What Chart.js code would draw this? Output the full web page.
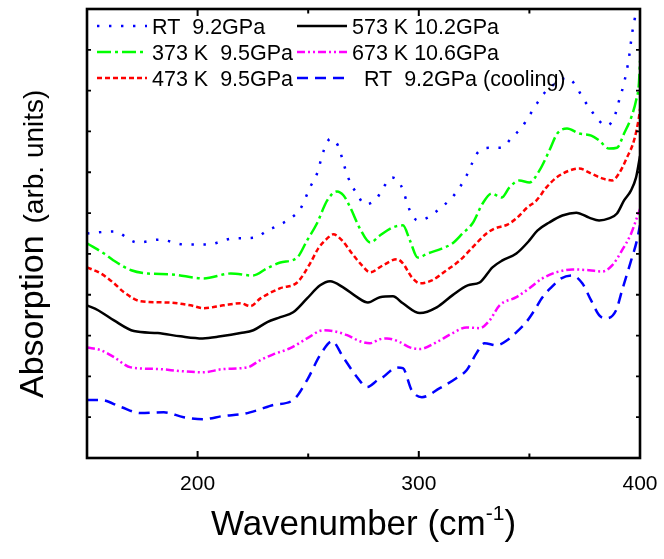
<!DOCTYPE html>
<html>
<head>
<meta charset="utf-8">
<script src="https://cdn.jsdelivr.net/npm/chart.js@4/dist/chart.umd.min.js"></script>
<style>
  html, body { margin: 0; padding: 0; background: #fff; }
  #wrap { position: relative; width: 664px; height: 559px; }
</style>
</head>
<body>
<div id="wrap"><canvas id="c"></canvas></div>
<script>
// ---- data (wavenumber in cm^-1, absorption in arb. units) ----
const rtX = [150, 162, 173, 183, 194, 204.5, 216, 226, 231.5, 236.5, 242, 246.5, 251, 254, 257, 260, 263.5, 266.7, 269, 272, 275.7, 281, 284, 288, 292, 296, 299.5, 304, 309.5, 315, 318.5, 321.6, 324, 326.6, 332, 337.4, 342, 346.4, 350, 353.6, 357.7, 362.2, 367, 371, 374, 378, 381.5, 385, 388.3, 390.5, 392.8, 395, 396.4, 397.7, 398.6, 400];
const rtY = [5.50, 5.55, 5.28, 5.35, 5.23, 5.23, 5.38, 5.40, 5.57, 5.70, 5.87, 6.11, 6.65, 6.97, 7.53, 7.82, 7.65, 7.09, 6.75, 6.48, 6.21, 6.36, 6.63, 6.87, 6.67, 6.06, 5.82, 5.89, 6.11, 6.38, 6.63, 6.92, 7.21, 7.48, 7.60, 7.60, 7.85, 8.09, 8.39, 8.70, 9.00, 9.19, 9.32, 9.12, 8.83, 8.51, 8.26, 8.14, 8.34, 8.75, 9.19, 9.80, 10.39, 10.78, 11.0, 11.3];

const k373X = [150, 157.7, 162, 170, 177.5, 188, 202.7, 215, 225, 231.5, 237.4, 245, 249.5, 254, 258.6, 263, 266, 269, 273.4, 278, 282.4, 288.3, 292.8, 296, 299.5, 304, 310.4, 315.3, 319.8, 324.3, 328.8, 333, 337.4, 341, 345.5, 350, 354.5, 359, 362.6, 367, 372.5, 378, 381.5, 386, 389.6, 392.8, 396, 398.2, 399.5, 400];
const k373Y = [5.26, 5.01, 4.84, 4.60, 4.52, 4.50, 4.40, 4.52, 4.47, 4.65, 4.79, 4.91, 5.33, 5.75, 6.31, 6.53, 6.43, 6.14, 5.62, 5.28, 5.45, 5.65, 5.70, 5.33, 4.91, 5.01, 5.13, 5.26, 5.50, 5.75, 6.23, 6.48, 6.38, 6.63, 6.80, 6.75, 7.04, 7.53, 7.95, 8.07, 7.95, 7.90, 7.78, 7.58, 7.60, 7.95, 8.34, 8.75, 9.17, 9.73];

const k473X = [150, 156.3, 162.2, 166.7, 174.3, 186.5, 196.8, 202.7, 211.7, 219.4, 223.9, 228.4, 237.4, 245, 250.9, 254.5, 258.6, 261.3, 265.3, 269.8, 274.3, 277.9, 283.8, 290.1, 292.8, 296.8, 300.5, 305.9, 312.6, 318.5, 324.3, 330.6, 334.2, 340.1, 344.1, 349.1, 353.2, 357.7, 362.2, 368, 372.5, 377.9, 382.9, 387.4, 390.5, 394.1, 397.3, 399.5, 400];
const k473Y = [4.67, 4.52, 4.28, 4.06, 3.84, 3.81, 3.74, 3.67, 3.74, 3.79, 3.72, 3.91, 4.16, 4.30, 4.77, 5.13, 5.38, 5.48, 5.33, 5.01, 4.72, 4.55, 4.72, 4.87, 4.77, 4.43, 4.28, 4.35, 4.60, 4.84, 5.16, 5.50, 5.62, 5.72, 5.87, 6.14, 6.31, 6.63, 6.87, 7.04, 7.09, 6.97, 6.85, 6.80, 6.97, 7.36, 7.78, 8.34, 8.55];

const k573X = [150, 155, 162.2, 171.2, 182, 192.3, 202.3, 210.4, 219.4, 225.2, 231.5, 237.4, 243.2, 249.5, 255.4, 259.9, 265.8, 272.1, 277, 282.4, 288.3, 292.8, 300.5, 308.1, 315.3, 322.1, 327.5, 333.3, 337.8, 344.1, 350, 353.6, 359, 364.9, 371.2, 377, 381.5, 386, 389.6, 392.8, 395.9, 398.2, 399.5, 400];
const k573Y = [3.74, 3.62, 3.37, 3.11, 3.06, 2.98, 2.93, 2.98, 3.06, 3.13, 3.33, 3.45, 3.57, 3.91, 4.23, 4.33, 4.18, 3.94, 3.81, 3.94, 3.96, 3.79, 3.55, 3.69, 3.99, 4.23, 4.30, 4.67, 4.84, 5.01, 5.33, 5.57, 5.77, 5.94, 6.01, 5.89, 5.82, 5.87, 5.99, 6.31, 6.55, 6.87, 7.24, 7.40];

const k673X = [150, 156.3, 162.2, 169.8, 182, 192.3, 202.7, 211.7, 222.5, 228.4, 234.2, 241.9, 249.5, 256.8, 261.3, 267.6, 273.4, 277.9, 282.4, 285.6, 291.4, 295.9, 300.5, 308.1, 315.3, 321.6, 327.5, 332, 336.5, 344.1, 350, 355.9, 362.2, 369.4, 377, 382.9, 387.4, 391.9, 396, 398.6, 400];
const k673Y = [2.71, 2.64, 2.47, 2.22, 2.18, 2.13, 2.10, 2.18, 2.22, 2.40, 2.54, 2.69, 2.93, 3.13, 3.11, 3.01, 2.86, 2.81, 2.91, 2.93, 2.84, 2.71, 2.67, 2.84, 3.06, 3.20, 3.18, 3.37, 3.74, 3.94, 4.16, 4.40, 4.55, 4.62, 4.60, 4.57, 4.72, 5.09, 5.50, 5.89, 6.10];

const coolX = [150, 156.3, 165.3, 174.3, 184.7, 193.7, 202.3, 211.7, 220.7, 227, 234.2, 243.2, 249.5, 255.4, 260.8, 265.8, 272.1, 276.6, 281.5, 283.8, 290.1, 292.8, 296.8, 301.4, 309.5, 317.1, 321.6, 326.1, 329.7, 335.1, 340.1, 344.1, 348.6, 352.3, 355.9, 359.9, 364.4, 369.4, 373.9, 377.9, 381.5, 384.7, 389.2, 391.9, 396, 398.6, 400];
const coolY = [1.42, 1.42, 1.25, 1.10, 1.12, 1.00, 0.95, 1.03, 1.08, 1.17, 1.30, 1.42, 1.91, 2.52, 2.86, 2.47, 1.98, 1.74, 1.91, 1.98, 2.22, 2.20, 1.66, 1.49, 1.71, 1.96, 2.15, 2.57, 2.81, 2.76, 2.89, 3.08, 3.33, 3.62, 3.94, 4.18, 4.40, 4.47, 4.28, 3.86, 3.50, 3.42, 3.62, 4.11, 4.84, 5.33, 5.70];

const seriesLabels = ['RT  9.2GPa', '373 K  9.5GPa', '473 K  9.5GPa', '573 K 10.2GPa', '673 K 10.6GPa', '  RT  9.2GPa (cooling)'];
const xTickValues = [200, 300, 400];
const xMin = 150, xMax = 400, yMin = 0, yMax = 11;

// ---- build ----
const FONT = "'Liberation Sans', Arial, Helvetica, sans-serif";
const pts = (xs, ys) => xs.map((x, i) => ({ x: x, y: ys[i] }));
const styles = [
  { color: '#0000ff', dash: [2.4, 9.6] },
  { color: '#00ff00', dash: [14, 4, 3, 4] },
  { color: '#ff0000', dash: [5, 3] },
  { color: '#000000', dash: [] },
  { color: '#ff00ff', dash: [8, 3, 2, 3, 2, 3] },
  { color: '#0000ff', dash: [11, 7] }
];
const allX = [rtX, k373X, k473X, k573X, k673X, coolX];
const allY = [rtY, k373Y, k473Y, k573Y, k673Y, coolY];

const datasets = allX.map((xs, i) => ({
  label: seriesLabels[i].trim(),
  data: pts(xs, allY[i]),
  borderColor: styles[i].color,
  borderWidth: 2.5,
  borderDash: styles[i].dash,
  borderCapStyle: 'butt',
  pointRadius: 0,
  fill: false,
  cubicInterpolationMode: 'monotone'
}));

const deco = {
  id: 'deco',
  afterDraw(chart) {
    const { ctx, chartArea: a, scales } = chart;
    const x = scales.x, y = scales.y;
    ctx.save();
    ctx.setLineDash([]);
    ctx.strokeStyle = '#000';
    // frame
    ctx.lineWidth = 2.6;
    ctx.strokeRect(a.left, a.top, a.right - a.left, a.bottom - a.top);
    // x ticks (inward, top and bottom)
    ctx.lineWidth = 2;
    x.ticks.forEach(t => {
      if (t.value <= xMin || t.value >= xMax) return;
      const px = x.getPixelForValue(t.value);
      const len = t.value % 100 === 0 ? 7 : 4.5;
      ctx.beginPath();
      ctx.moveTo(px, a.bottom); ctx.lineTo(px, a.bottom - len);
      ctx.moveTo(px, a.top); ctx.lineTo(px, a.top + len);
      ctx.stroke();
    });
    // y ticks (inward, left and right)
    ctx.lineWidth = 1.8;
    y.ticks.forEach(t => {
      if (t.value <= yMin || t.value >= yMax) return;
      const py = y.getPixelForValue(t.value);
      ctx.beginPath();
      ctx.moveTo(a.left, py); ctx.lineTo(a.left + 4, py);
      ctx.moveTo(a.right, py); ctx.lineTo(a.right - 4, py);
      ctx.stroke();
    });
    // legend inside plot
    const cols = [{ x0: 97, x1: 147, tx: 152 }, { x0: 297, x1: 347, tx: 352 }];
    const rows = [26, 52, 78];
    ctx.font = '21.5px ' + FONT;
    ctx.textBaseline = 'alphabetic';
    ctx.textAlign = 'left';
    seriesLabels.forEach((lab, i) => {
      const c = cols[Math.floor(i / 3)], r = rows[i % 3];
      const ds = chart.data.datasets[i];
      ctx.save();
      ctx.strokeStyle = ds.borderColor;
      ctx.lineWidth = 2.5;
      ctx.lineCap = 'butt';
      ctx.setLineDash(ds.borderDash);
      ctx.beginPath(); ctx.moveTo(c.x0, r); ctx.lineTo(c.x1, r); ctx.stroke();
      ctx.restore();
      ctx.fillStyle = '#000';
      ctx.fillText(lab, c.tx, r + 7.5);
    });
    // y-axis title (rotated)
    ctx.save();
    ctx.translate(43, 398);
    ctx.rotate(-Math.PI / 2);
    ctx.fillStyle = '#000';
    ctx.font = '34px ' + FONT;
    ctx.fillText('Absorption', 0, 0);
    const w1 = ctx.measureText('Absorption').width;
    ctx.font = '28px ' + FONT;
    ctx.fillText('(arb. units)', w1 + 12, 0);
    ctx.restore();
    // x-axis title with superscript
    const big = '35px ' + FONT, small = '21px ' + FONT;
    ctx.font = big; const wa = ctx.measureText('Wavenumber (cm').width; const wc = ctx.measureText(')').width;
    ctx.font = small; const wb = ctx.measureText('-1').width;
    const total = wa + wb + wc;
    let sx = (a.left + a.right) / 2 - total / 2;
    const by = 535;
    ctx.fillStyle = '#000';
    ctx.font = big; ctx.fillText('Wavenumber (cm', sx, by); sx += wa;
    ctx.font = small; ctx.fillText('-1', sx, by - 15); sx += wb;
    ctx.font = big; ctx.fillText(')', sx, by);
    ctx.restore();
  }
};

new Chart(document.getElementById('c'), {
  type: 'line',
  data: { datasets: datasets },
  options: {
    responsive: true,
    maintainAspectRatio: false,
    animation: false,
    layout: { padding: { left: 87, top: 9, right: 24, bottom: 0 } },
    plugins: { legend: { display: false }, tooltip: { enabled: false } },
    scales: {
      x: {
        type: 'linear',
        min: xMin, max: xMax,
        grid: { display: false, drawTicks: false },
        border: { display: false },
        afterFit: s => { s.height = 101; s.paddingRight = 0; s.paddingLeft = 0; },
        ticks: {
          stepSize: 50,
          autoSkip: false,
          maxRotation: 0,
          padding: 14,
          color: '#000',
          font: { family: FONT, size: 21 },
          callback: v => (xTickValues.includes(v) ? String(v) : '')
        }
      },
      y: {
        type: 'linear',
        min: yMin, max: yMax,
        grid: { display: false, drawTicks: false },
        border: { display: false },
        afterFit: s => { s.width = 0; s.paddingTop = 0; s.paddingBottom = 0; },
        ticks: { display: false, stepSize: 1 }
      }
    }
  },
  plugins: [deco]
});
</script>
</body>
</html>
